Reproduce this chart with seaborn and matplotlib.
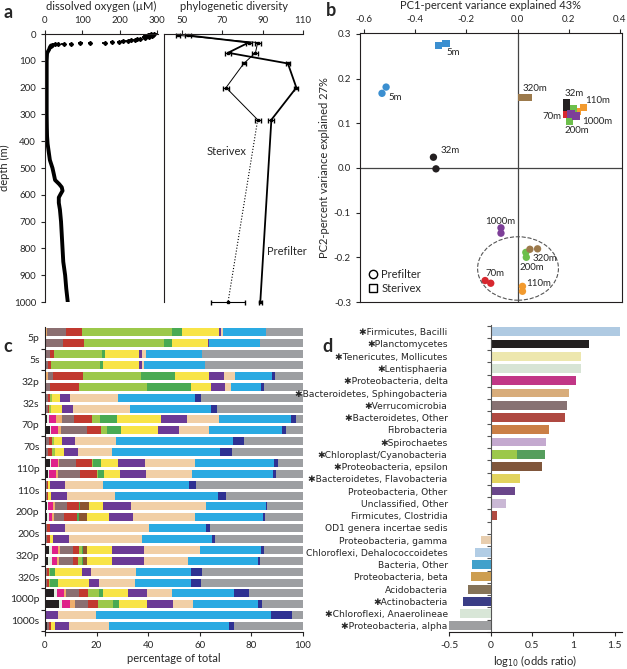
# oxygen / diversity profile, PCA of communities, taxon composition and odds ratios
import numpy as np
import pandas as pd
import seaborn as sns
import matplotlib.pyplot as plt
from matplotlib.patches import Ellipse
from matplotlib.lines import Line2D
from matplotlib.ticker import FormatStrFormatter

# ---------------- panel a data ----------------
# scattered CTD readings in the oxycline
o2_top_depth = [0, 1, 2, 3, 4, 6, 8, 10, 12, 15, 17, 19, 21, 23, 25, 27, 29, 31, 33, 34, 35, 36, 37, 38, 39, 41, 43]
o2_top_value = [285, 293, 275, 290, 282, 270, 288, 278, 265, 268, 255, 248, 240, 230, 222, 210, 198, 180, 160, 120, 95, 70, 50, 35, 28, 20, 16]
# continuous profile below the oxycline
o2_depth = [43, 50, 58, 65, 72, 85, 100, 150, 200, 250, 300, 350, 380, 410, 440, 470, 500, 525, 545, 560,
            572, 585, 597, 610, 630, 655, 700, 750, 800, 850, 900, 950, 1000]
o2_value = [16, 13, 11, 8, 5.5, 5, 4.5, 4.5, 4.5, 4.5, 4.5, 5, 5.5, 7, 10, 13, 20, 24, 27, 38,
            45, 47, 42, 37, 37, 40, 43, 45, 47, 49, 54, 57, 61]

pd_depth = [5, 32, 70, 110, 200, 320, 1000]
pd_prefilter = [53, 83, 72.8, 102.5, 106.7, 94.3, 88.8]
pd_prefilter_err = [1.5, 1.5, 1.5, 1.0, 1.0, 1.5, 0.8]
pd_sterivex = [48, 87.5, 86.4, 80.6, 71.8, 87.5, 72.8]
pd_sterivex_err = [1.0, 1.5, 1.5, 1.0, 1.5, 1.5, 8.4]

# ---------------- panel b data ----------------
pc1 = [-0.310, -0.280, 0.017, 0.042, 0.192, 0.192, 0.192, 0.200, 0.257, 0.235, 0.218, 0.202, 0.208, 0.228,
       -0.514, -0.530, -0.329, -0.319, -0.127, -0.105, 0.019, 0.019, 0.032, 0.034, 0.048, 0.078, -0.065, -0.065]
pc2 = [0.274, 0.278, 0.157, 0.157, 0.146, 0.131, 0.120, 0.120, 0.136, 0.126, 0.132, 0.104, 0.121, 0.116,
       0.181, 0.167, 0.024, -0.002, -0.252, -0.258, -0.265, -0.276, -0.189, -0.200, -0.182, -0.181, -0.134, -0.146]
pca_depth = ['5m', '5m', '320m', '320m', '32m', '32m', '70m', '70m', '110m', '110m', '200m', '200m', '1000m', '1000m',
             '5m', '5m', '32m', '32m', '70m', '70m', '110m', '110m', '200m', '200m', '320m', '320m', '1000m', '1000m']
pca_filter = ['Sterivex'] * 14 + ['Prefilter'] * 14
depth_colors = {'5m': '#3b8fd0', '32m': '#231f20', '70m': '#d7282f', '110m': '#f29a2e',
                '200m': '#6dbf4b', '320m': '#9c7a4c', '1000m': '#7d3f98'}

# ---------------- panel c data ----------------
c_groups = ['5p', '5s', '32p', '32s', '70p', '70s', '110p', '110s', '200p', '200s', '320p', '320s', '1000p', '1000s']
c_black = [0, 0, 0, 0, 0, 0, 0, 0, 0.9, 1.9, 0, 0, 1.9, 1.0, 0, 0, 0.6, 0.9, 0, 0, 1.7, 1.3, 0, 0, 3.6, 5.4, 0, 0.6]
c_pale = [0, 0, 0, 0, 0, 0, 0, 0, 0.5, 0.4, 0, 0, 0.4, 0.7, 0, 0, 0.4, 0.7, 0, 0, 0.9, 1.3, 0, 0, 0.9, 1.2, 0, 0]
c_magenta = [0, 0, 0, 0, 0, 0, 0, 0, 2.7, 2.6, 0, 0, 2.6, 2.4, 0, 0, 2.0, 1.2, 0, 0, 2.6, 2.2, 0, 0, 2.9, 3.1, 0, 0]
c_tan = [0.6, 0, 0, 0, 1.0, 0, 0, 0, 2.6, 1.3, 0, 0, 0.7, 0.8, 0, 0, 0.9, 0.8, 0, 0, 0.6, 0.6, 0, 0, 0.8, 1.9, 0, 0]
c_mauve = [7.6, 6.9, 2.0, 1.3, 2.2, 1.9, 1.2, 1.3, 4.7, 10.0, 1.6, 1.3, 6.4, 8.7, 0.6, 0.7, 4.8, 3.9, 0.9, 0.8,
           5.2, 5.3, 0.8, 0.8, 5.1, 5.2, 0.4, 0.8]
c_red = [6.3, 8.4, 1.5, 0.9, 11.7, 11.3, 0.6, 0.4, 6.8, 5.5, 1.2, 1.3, 6.1, 6.4, 0.7, 0.6, 4.4, 4.8, 1.0, 1.1,
         2.2, 2.2, 0.8, 0.9, 3.3, 3.9, 0, 0.9]
c_lgreen = [34.9, 30.9, 18.6, 19.1, 22.4, 26.4, 0.9, 0.6, 3.1, 2.4, 0.7, 1.3, 0.4, 0.6, 0, 0, 0, 0, 0, 0,
            1.0, 1.3, 0.3, 0.2, 4.5, 5.8, 0, 0]
c_green = [3.6, 3.1, 1.2, 1.0, 13.2, 16.8, 0, 0, 6.6, 5.4, 0, 0, 3.2, 2.3, 0, 0, 0.5, 0.9, 0, 0,
           0.7, 0.7, 2.0, 3.0, 1.3, 2.2, 0, 0]
c_brown = [0, 0, 0, 0, 0, 0, 0, 0, 0, 0, 0, 0, 0, 0, 0, 0, 3.5, 3.2, 0, 0, 1.3, 1.5, 0, 0, 0, 0, 0, 0]
c_yellow = [14.5, 13.7, 13.3, 14.3, 12.9, 8.0, 3.1, 4.4, 16.9, 14.4, 3.0, 3.6, 6.5, 6.2, 0.6, 0.9, 5.5, 8.4, 0, 1.3,
            9.9, 9.6, 10.5, 12.2, 9.7, 10.8, 0, 1.6]
c_purple = [0.7, 0.6, 1.0, 1.0, 5.8, 5.2, 4.0, 4.0, 10.2, 8.1, 5.1, 5.4, 10.4, 10.0, 6.0, 6.5, 10.8, 9.2, 6.0, 6.0,
            12.3, 12.2, 3.5, 3.9, 7.4, 10.0, 4.8, 5.4]
c_beige = [0.6, 0, 1.6, 0.6, 4.3, 2.6, 18.4, 22.3, 12.4, 11.4, 15.8, 13.2, 19.6, 17.8, 14.5, 18.5, 29.1, 24.2, 32.6, 28.3,
           21.8, 17.4, 17.4, 13.7, 9.9, 7.8, 14.6, 15.5]
c_blue = [16.8, 19.8, 21.5, 23.9, 14.5, 11.6, 30.0, 31.3, 27.9, 28.4, 45.3, 41.7, 30.5, 31.5, 33.6, 39.7, 23.1, 26.4,
          22.0, 27.4, 23.6, 26.9, 21.2, 22.0, 24.0, 25.2, 67.7, 46.6]
c_navy = [0, 0, 0, 0, 1.0, 0.9, 2.3, 2.5, 1.9, 1.7, 4.4, 4.6, 1.6, 1.0, 2.6, 3.1, 0.6, 0.5, 1.3, 1.1,
          0.9, 0.9, 4.3, 3.8, 5.8, 1.6, 8.4, 1.7]
c_gray = [14.4, 16.6, 39.3, 37.9, 11.0, 15.3, 39.5, 33.2, 2.8, 6.5, 22.9, 27.6, 9.7, 10.6, 41.4, 30.0, 13.8, 14.9,
          36.2, 34.0, 15.3, 16.6, 39.2, 39.5, 20.8, 15.9, 4.1, 26.9]

c_layers = [c_black, c_pale, c_magenta, c_tan, c_mauve, c_red, c_lgreen, c_green, c_brown,
            c_yellow, c_purple, c_beige, c_blue, c_navy, c_gray]
c_colors = ['#231f20', '#e4efe1', '#df2189', '#eeae6c', '#8b6f71', '#c1392f', '#9cc84a', '#49aa53', '#8b5430',
            '#f8e447', '#6b3a96', '#f1cfa6', '#2aaae2', '#2e3192', '#9d9fa2']

# ---------------- panel d data ----------------
d_taxa = ['Firmicutes, Bacilli', 'Planctomycetes', 'Tenericutes, Mollicutes', 'Lentisphaeria',
          'Proteobacteria, delta', 'Bacteroidetes, Sphingobacteria', 'Verrucomicrobia', 'Bacteroidetes, Other',
          'Fibrobacteria', 'Spirochaetes', 'Chloroplast/Cyanobacteria', 'Proteobacteria, epsilon',
          'Bacteroidetes, Flavobacteria', 'Proteobacteria, Other', 'Unclassified, Other', 'Firmicutes, Clostridia',
          'OD1 genera incertae sedis', 'Proteobacteria, gamma', 'Chloroflexi, Dehalococcoidetes', 'Bacteria, Other',
          'Proteobacteria, beta', 'Acidobacteria', 'Actinobacteria', 'Chloroflexi, Anaerolineae',
          'Proteobacteria, alpha']
d_odds = [1.56, 1.19, 1.09, 1.09, 1.03, 0.95, 0.92, 0.90, 0.71, 0.67, 0.65, 0.62, 0.35, 0.29, 0.18, 0.08,
          0.0, -0.12, -0.19, -0.22, -0.24, -0.27, -0.34, -0.37, -0.50]
d_starred = [1, 1, 1, 1, 1, 1, 1, 1, 0, 1, 1, 1, 1, 0, 0, 0, 0, 0, 0, 0, 0, 0, 1, 1, 1]
d_colors = ['#a7cbea', '#231f20', '#f7f0a4', '#d5e7d2', '#d81f8a', '#e8ad6a', '#8a6e70', '#c1392f',
            '#e07c30', '#c6a3d5', '#49aa53', '#8b5430', '#f8e447', '#6b3a96', '#cbb3da', '#c23a2e',
            '#ffffff', '#f1cfa6', '#a9cdee', '#2aaae2', '#e2a33b', '#8c7450', '#2e3192', '#d6e8d4', '#9d9fa2']
d_chloroplast = 0.32
d_chloroplast_color = '#9cc84a'

# ---------------- figure ----------------
sns.set_theme(style='ticks')
plt.rcParams['font.family'] = ['Lato', 'DejaVu Sans']
plt.rcParams['axes.unicode_minus'] = False
plt.rcParams['axes.edgecolor'] = '#231f20'
plt.rcParams['axes.linewidth'] = 0.8
plt.rcParams['xtick.labelsize'] = 7
plt.rcParams['ytick.labelsize'] = 7
plt.rcParams['xtick.major.size'] = 3
plt.rcParams['ytick.major.size'] = 3
plt.rcParams['xtick.major.width'] = 0.8
plt.rcParams['ytick.major.width'] = 0.8

W, H = 627, 669
fig = plt.figure(figsize=(W / 100, H / 100), dpi=100)


def box(left, top, right, bottom):
    # pixel box -> figure fraction rect
    return [left / W, 1 - bottom / H, (right - left) / W, (bottom - top) / H]


# panel a, oxygen
ax_o = fig.add_axes(box(45, 34, 158, 302))
sns.lineplot(x=o2_value, y=o2_depth, sort=False, orient='y', estimator=None, color='black', lw=2.8, ax=ax_o)
ax_o.errorbar(o2_top_value, o2_top_depth, xerr=6, fmt='D', ms=2.0, color='black', elinewidth=1.3,
              capsize=0, clip_on=False)
ax_o.set_xlim(0, 303)
ax_o.set_ylim(1000, 0)
ax_o.set_xticks([0, 100, 200, 300])
ax_o.set_yticks(range(0, 1001, 100))
ax_o.xaxis.tick_top()
ax_o.xaxis.set_label_position('top')
ax_o.set_xlabel('dissolved oxygen (\u00b5M)', fontsize=8, labelpad=4)
ax_o.set_ylabel('depth (m)', fontsize=8, labelpad=3)
ax_o.spines['right'].set_visible(False)
ax_o.spines['bottom'].set_visible(False)

# panel a, phylogenetic diversity
ax_p = fig.add_axes(box(164, 34, 303, 302))
ax_p.errorbar(pd_prefilter, pd_depth, xerr=pd_prefilter_err, fmt='s-', ms=1.6, color='black', lw=1.3,
              elinewidth=0.8, capsize=1.8, clip_on=False)
ax_p.errorbar(pd_sterivex, pd_depth, xerr=pd_sterivex_err, fmt='s', ms=1.6, color='black',
              elinewidth=0.8, capsize=1.8, clip_on=False)
ax_p.plot(pd_sterivex[:6], pd_depth[:6], color='black', lw=0.7)
ax_p.plot(pd_sterivex[5:], pd_depth[5:], color='black', lw=0.8, ls=':')
ax_p.set_xlim(41, 110)
ax_p.set_ylim(1000, 0)
ax_p.set_xticks([50, 70, 90, 110])
ax_p.xaxis.tick_top()
ax_p.xaxis.set_label_position('top')
ax_p.set_xlabel('phylogenetic diversity', fontsize=8, labelpad=4)
ax_p.tick_params(axis='y', left=False, labelleft=False)
ax_p.spines['right'].set_visible(False)
ax_p.spines['bottom'].set_visible(False)
ax_p.text(71.8, 437, 'Sterivex', fontsize=8, ha='center', va='center')
ax_p.text(102, 813, 'Prefilter', fontsize=8, ha='center', va='center')

# panel b, PCA
ax_b = fig.add_axes(box(360, 33, 622, 302))
pca = pd.DataFrame({'pc1': pc1, 'pc2': pc2, 'depth': pca_depth, 'filter': pca_filter})
sns.scatterplot(data=pca, x='pc1', y='pc2', hue='depth', style='filter', palette=depth_colors,
                markers={'Prefilter': 'o', 'Sterivex': 's'}, s=28, edgecolor='none', legend=False, ax=ax_b)
ax_b.axvline(0, color='#444444', lw=0.9, zorder=0)
ax_b.axhline(0, color='#444444', lw=0.9, zorder=0)
ax_b.add_patch(Ellipse((0.0016, -0.225), 0.316, 0.142, fill=False, ls='--', lw=0.8, color='#555555'))
ax_b.set_xlim(-0.616, 0.408)
ax_b.set_ylim(-0.3, 0.302)
ax_b.set_xticks([-0.6, -0.4, -0.2, 0.0, 0.2, 0.4])
ax_b.set_yticks([-0.3, -0.2, -0.1, 0.0, 0.1, 0.2, 0.3])
ax_b.xaxis.set_major_formatter(FormatStrFormatter('%.1f'))
ax_b.yaxis.set_major_formatter(FormatStrFormatter('%.1f'))
ax_b.xaxis.tick_top()
ax_b.xaxis.set_label_position('top')
ax_b.set_xlabel('PC1-percent variance explained 43%', fontsize=8, labelpad=4)
ax_b.set_ylabel('PC2-percent variance explained 27%', fontsize=8, labelpad=3)
pca_labels = [('5m', -0.280, 0.258, 'left'), ('5m', -0.506, 0.157, 'left'), ('320m', 0.021, 0.177, 'left'),
              ('32m', 0.185, 0.166, 'left'), ('110m', 0.263, 0.152, 'left'), ('70m', 0.173, 0.116, 'right'),
              ('1000m', 0.252, 0.103, 'left'), ('200m', 0.185, 0.083, 'left'), ('32m', -0.303, 0.038, 'left'),
              ('1000m', -0.127, -0.120, 'left'), ('320m', 0.060, -0.203, 'left'), ('200m', 0.009, -0.223, 'left'),
              ('70m', -0.127, -0.236, 'left'), ('110m', 0.033, -0.259, 'left')]
for txt, lx, ly, ha in pca_labels:
    ax_b.text(lx, ly, txt, fontsize=7, ha=ha, va='center')
handles = [Line2D([], [], ls='none', marker='o', mfc='none', mec='black', ms=6, label='Prefilter'),
           Line2D([], [], ls='none', marker='s', mfc='none', mec='black', ms=6, label='Sterivex')]
ax_b.legend(handles=handles, loc='lower left', frameon=False, fontsize=8, handletextpad=0.2,
            borderaxespad=0.3, labelspacing=0.3, handlelength=1.0)

# panel c, stacked composition
ax_c = fig.add_axes(box(45, 327, 303, 632))
n_bars = len(c_gray)
ypos = np.arange(n_bars)
left = np.zeros(n_bars)
for vals, col in zip(c_layers, c_colors):
    vals = np.array(vals)
    ax_c.barh(ypos, vals, left=left, height=0.74, color=col, linewidth=0)
    left += vals
ax_c.set_xlim(0, 100)
ax_c.set_ylim(27.55, -0.5)
ax_c.set_xticks(range(0, 101, 20))
ax_c.set_yticks(np.arange(0.5, n_bars, 2))
ax_c.set_yticklabels(c_groups, fontsize=7.5)
ax_c.tick_params(axis='y', which='major', length=0, pad=4)
ax_c.set_yticks(np.arange(1.5, n_bars + 1, 2), minor=True)
ax_c.tick_params(axis='y', which='minor', length=3, width=0.8, color='#231f20')
ax_c.set_xlabel('percentage of total', fontsize=8, labelpad=2)
ax_c.spines['top'].set_visible(False)
ax_c.spines['right'].set_visible(False)

# panel d, odds ratios
ax_d = fig.add_axes(box(449.3, 325, 621.5, 632))
sns.barplot(x=d_odds, y=d_taxa, hue=d_taxa, palette=dict(zip(d_taxa, d_colors)), orient='h',
            width=0.72, legend=False, linewidth=0, ax=ax_d)
ax_d.barh(d_taxa.index('Chloroplast/Cyanobacteria'), d_chloroplast, height=0.72,
          color=d_chloroplast_color, linewidth=0)
ax_d.set_xlim(-0.5, 1.58)
ax_d.set_ylim(24.5, -0.55)
ax_d.spines['left'].set_position(('data', 0))
ax_d.spines['left'].set_color('#555555')
ax_d.spines['top'].set_visible(False)
ax_d.spines['right'].set_visible(False)
ax_d.set_xticks([-0.5, 0, 0.5, 1, 1.5])
ax_d.set_xticklabels(['-0.5', '0', '0.5', '1', '1.5'], fontsize=7.5)
d_labels = [('\u2731' + t) if s else t for t, s in zip(d_taxa, d_starred)]
ax_d.set_yticks(range(len(d_taxa)))
ax_d.set_yticklabels(d_labels, fontsize=6.6, family=['Liberation Sans Narrow', 'DejaVu Sans'])
ax_d.tick_params(axis='y', which='major', length=0, pad=31)
ax_d.set_yticks(np.arange(-0.5, len(d_taxa)), minor=True)
ax_d.tick_params(axis='y', which='minor', length=3, width=0.8, color='#555555')
ax_d.set_ylabel('')
ax_d.set_xlabel('log$_{10}$ (odds ratio)', fontsize=8, labelpad=2)

# panel letters
for letter, px, py in [('a', 3, 12), ('b', 326, 10), ('c', 3, 346), ('d', 322, 346)]:
    fig.text(px / W, 1 - py / H, letter, fontsize=13, fontweight='bold', va='center')

fig.savefig('out.png', dpi=100)
plt.close(fig)
